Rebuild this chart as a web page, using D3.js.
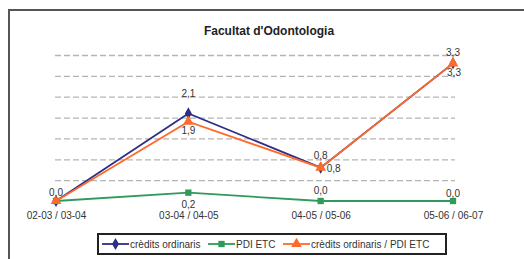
<!DOCTYPE html>
<html>
<head>
<meta charset="utf-8">
<script src="https://cdn.jsdelivr.net/npm/d3@7"></script>
<style>
  body { margin: 0; background: #fff; }
  text { font-family: "Liberation Sans", Arial, sans-serif; }
</style>
</head>
<body>
<script>
// data
const cursos = ["02-03 / 03-04", "03-04 / 04-05", "04-05 / 05-06", "05-06 / 06-07"];
const creditsOrdinaris = [0.0, 2.1, 0.8, 3.3];
const pdiEtc = [0.0, 0.2, 0.0, 0.0];
const creditsPerPdi = [0.0, 1.9, 0.8, 3.3];
const seriesNames = ["crèdits ordinaris", "PDI ETC", "crèdits ordinaris / PDI ETC"];
const gridTicks = [0.5, 1, 1.5, 2, 2.5, 3, 3.5];

const W = 524, H = 259;
const svg = d3.select("body").append("svg")
    .attr("width", W)
    .attr("height", H);

// outer frame (only top and left edge visible)
svg.append("path")
    .attr("d", "M9," + H + "V10H" + W)
    .attr("fill", "none")
    .attr("stroke", "#555")
    .attr("stroke-width", 2);

svg.append("text")
    .attr("x", 269)
    .attr("y", 35)
    .attr("text-anchor", "middle")
    .attr("font-size", 12)
    .attr("font-weight", "bold")
    .attr("fill", "#222")
    .text("Facultat d'Odontologia");

var x = d3.scalePoint()
    .domain(cursos)
    .range([56, 453]);

var y = d3.scaleLinear()
    .domain([0, 3.5])
    .range([201, 55]);

// dashed gridlines
var grid = svg.append("g")
    .attr("transform", "translate(55,0)")
    .call(d3.axisLeft(y).tickValues(gridTicks).tickSize(-400).tickFormat(""));
grid.select(".domain").remove();
grid.selectAll("line")
    .attr("stroke", "#b5b5b5")
    .attr("stroke-width", 1.3)
    .attr("stroke-dasharray", "6,3");

// category axis, labels only
var xAxis = svg.append("g")
    .attr("transform", "translate(0,201)")
    .call(d3.axisBottom(x).tickSize(0).tickPadding(11));
xAxis.select(".domain").remove();
xAxis.selectAll("text")
    .attr("font-size", 10)
    .attr("font-family", "Liberation Sans, Arial, sans-serif")
    .attr("fill", "#333");

const colors = ["#2e2e86", "#2f9a5c", "#ff6a2a"];
const symbols = [d3.symbolDiamond, d3.symbolSquare, d3.symbolTriangle];
const symSizes = [42, 40, 50];

// label offsets relative to each point (null = no label)
const labelDy = [
    [-5.5, -16, -9, -7],
    [null, 15.5, -7.5, -4.5],
    [null, 12.5, 4, 12.5]
];
const labelDx = [
    [0, 0, 0, 0],
    [0, 0, 0, 0],
    [0, 0, 13, 1]
];

var allSeries = [creditsOrdinaris, pdiEtc, creditsPerPdi];
var line = d3.line()
    .x(function(d, i) { return x(cursos[i]); })
    .y(function(d) { return y(d); });

allSeries.forEach(function(vals, s) {
    svg.append("path")
        .datum(vals)
        .attr("d", line)
        .attr("fill", "none")
        .attr("stroke", colors[s])
        .attr("stroke-width", 1.8);

    svg.selectAll(".m" + s)
        .data(vals)
        .enter()
        .append("path")
        .attr("class", "m" + s)
        .attr("d", d3.symbol().type(symbols[s]).size(symSizes[s]))
        .attr("transform", function(d, i) { return "translate(" + x(cursos[i]) + "," + y(d) + ")"; })
        .attr("fill", colors[s]);
});

allSeries.forEach(function(vals, s) {
    var pts = vals.map(function(v, i) {
        return {v: v, cat: cursos[i], dx: labelDx[s][i], dy: labelDy[s][i]};
    }).filter(function(p) { return p.dy !== null; });

    svg.selectAll(".l" + s)
        .data(pts)
        .enter()
        .append("text")
        .attr("class", "l" + s)
        .attr("x", function(p) { return x(p.cat) + p.dx; })
        .attr("y", function(p) { return y(p.v) + p.dy; })
        .attr("text-anchor", "middle")
        .attr("font-size", 10)
        .attr("fill", "#333")
        .text(function(p) { return d3.format(".1f")(p.v).replace(".", ","); });
});

// legend
var legend = svg.append("g");
legend.append("rect")
    .attr("x", 98)
    .attr("y", 234)
    .attr("width", 348)
    .attr("height", 20)
    .attr("fill", "#fff")
    .attr("stroke", "#222")
    .attr("stroke-width", 2);

const legendX = [102, 208, 283];
seriesNames.forEach(function(name, s) {
    var lx = legendX[s];
    legend.append("line")
        .attr("x1", lx).attr("x2", lx + 27)
        .attr("y1", 244).attr("y2", 244)
        .attr("stroke", colors[s])
        .attr("stroke-width", 1.8);
    legend.append("path")
        .attr("d", d3.symbol().type(symbols[s]).size(symSizes[s]))
        .attr("transform", "translate(" + (lx + 13.5) + ",244)")
        .attr("fill", colors[s]);
    legend.append("text")
        .attr("x", lx + 28)
        .attr("y", 247.5)
        .attr("font-size", 10)
        .attr("fill", "#333")
        .text(name);
});
</script>
</body>
</html>
